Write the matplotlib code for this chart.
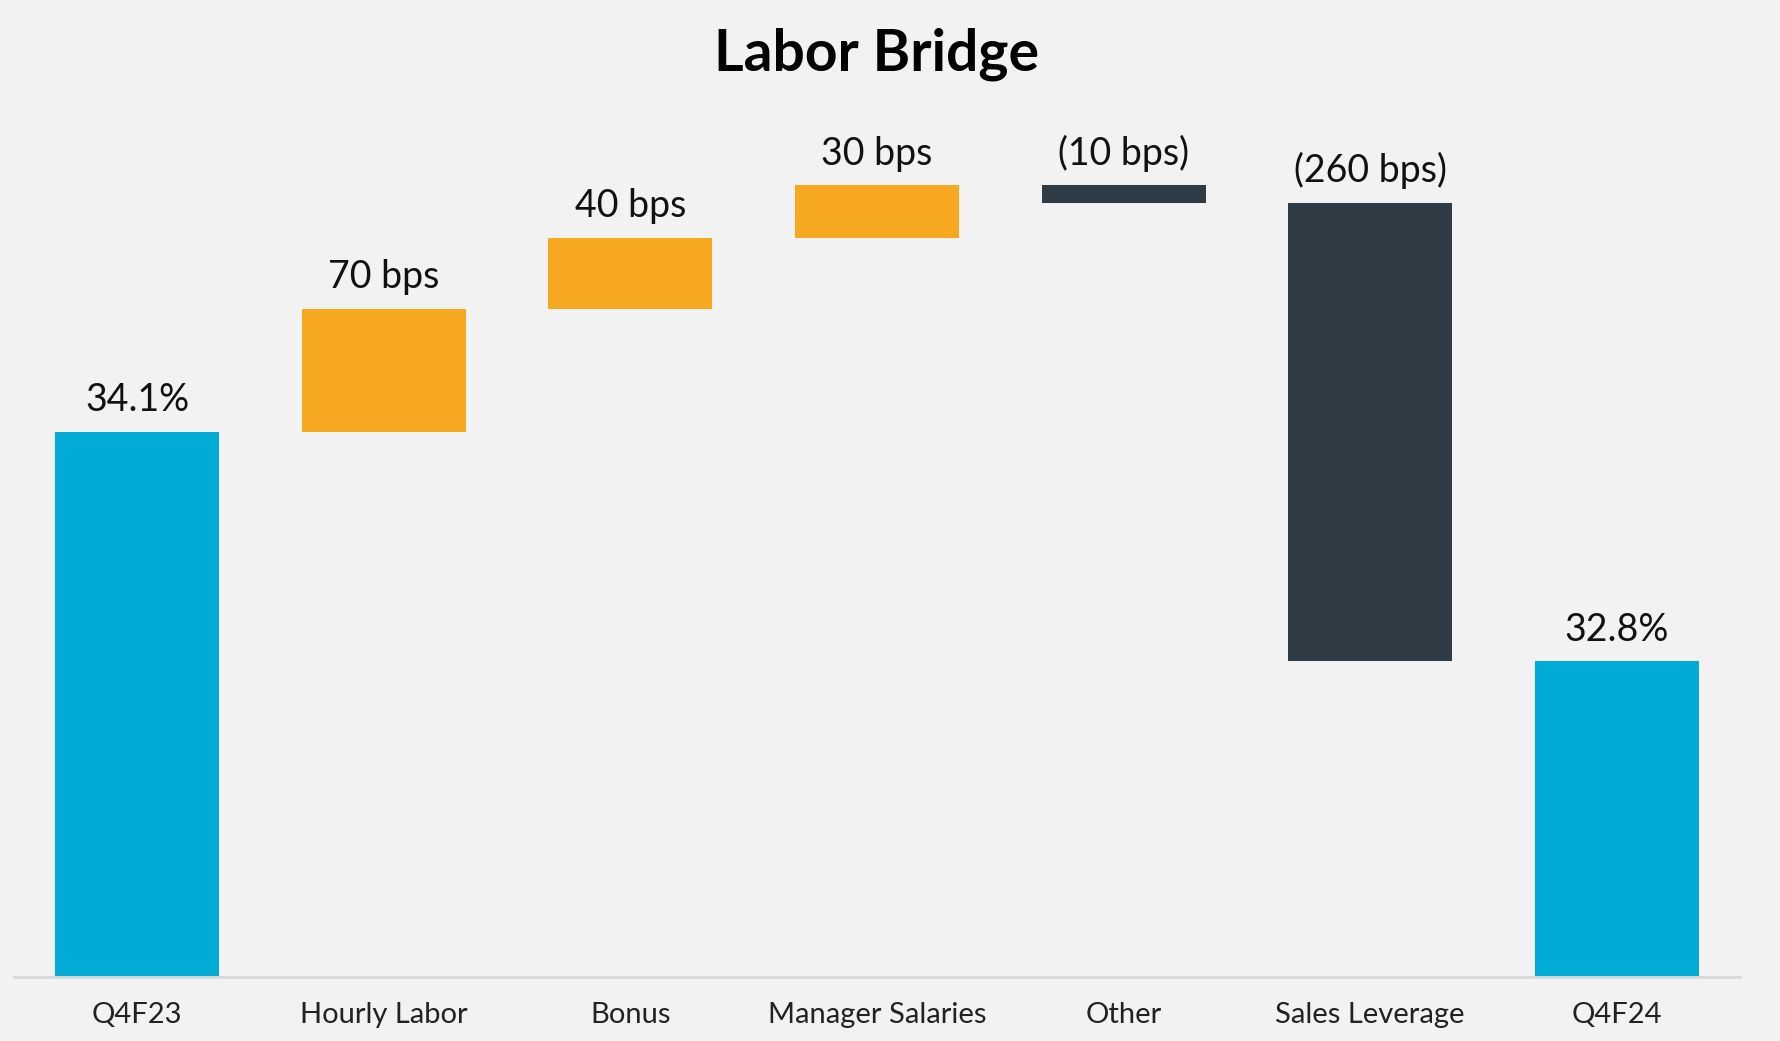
import matplotlib
matplotlib.use("Agg")
import matplotlib.pyplot as plt
import numpy as np

categories = ["Q4F23", "Hourly Labor", "Bonus", "Manager Salaries", "Other", "Sales Leverage", "Q4F24"]
start_value = 34.1          # %
changes_bps = [70, 40, 30, -10, -260]
end_value = 32.8            # %
labels = ["34.1%", "70 bps", "40 bps", "30 bps", "(10 bps)", "(260 bps)", "32.8%"]

BLUE = "#00ACD7"
ORANGE = "#F5A820"
DARK = "#2F3C46"
BG = "#F2F2F2"
FONT = ["Lato", "DejaVu Sans"]

plt.rcParams["font.family"] = FONT

fig = plt.figure(figsize=(17.8, 10.41), dpi=100, facecolor=BG)
W, H = 1780, 1041
ax = fig.add_axes([14 / W, 1 - 977 / H, (1740 - 14) / W, (977 - 120) / H])
ax.set_facecolor(BG)

ymin = 31.01
px_per_pp = 176.3
ymax = ymin + (977 - 120) / px_per_pp

x = np.arange(len(categories))
bottoms, heights, colors, tops = [], [], [], []
bottoms.append(ymin); heights.append(start_value - ymin); colors.append(BLUE); tops.append(start_value)
level = start_value
for c in changes_bps:
    d = c / 100.0
    new = level + d
    bottoms.append(min(level, new)); heights.append(abs(d))
    colors.append(ORANGE if d > 0 else DARK); tops.append(max(level, new))
    level = new
bottoms.append(ymin); heights.append(end_value - ymin); colors.append(BLUE); tops.append(end_value)

ax.bar(x, heights, bottom=bottoms, width=0.665, color=colors, zorder=2)

for xi, t, lab in zip(x, tops, labels):
    ax.annotate(lab, (xi, t), xytext=(0, 10), textcoords="offset points",
                ha="center", va="bottom", fontsize=27, color="#111111")

ax.set_xlim(-0.5, len(categories) - 0.5)
ax.set_ylim(ymin, ymax)
ax.set_xticks(x)
ax.set_xticklabels(categories, fontsize=21, color="#222222")
ax.tick_params(axis="x", length=0, pad=18)
ax.set_yticks([])
for s in ["top", "right", "left"]:
    ax.spines[s].set_visible(False)
ax.spines["bottom"].set_color("#D9D9D9")
ax.spines["bottom"].set_linewidth(2)
ax.spines["bottom"].set_zorder(3)

fig.text(0.4923, 1 - 54 / H, "Labor Bridge", ha="center", va="center",
         fontsize=41, fontweight="bold", color="#000000")

fig.savefig("out.png", dpi=100, facecolor=BG)
